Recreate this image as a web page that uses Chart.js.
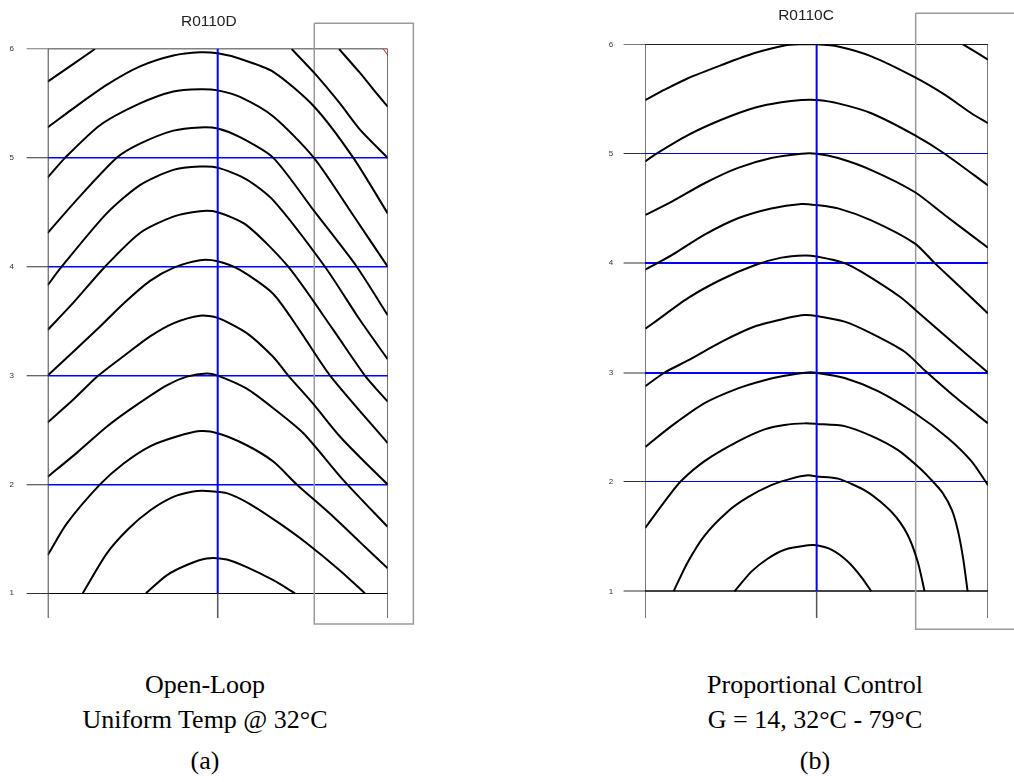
<!DOCTYPE html>
<html>
<head>
<meta charset="utf-8">
<script src="https://cdn.jsdelivr.net/npm/chart.js@4.4.0/dist/chart.umd.min.js"></script>
<style>
	body { margin: 0; background: #fff; width: 1014px; height: 782px; position: relative; overflow: hidden; }
	canvas { position: absolute; top: 0; }
	#openLoop { left: 0; }
	#propControl { left: 590px; }
	.cap {
		position: absolute; width: 300px; text-align: center; white-space: nowrap;
		font-family: 'Liberation Serif', 'Times New Roman', serif; font-size: 26px; line-height: 26px; color: #000;
	}
	.ttl {
		position: absolute; width: 200px; text-align: center; white-space: nowrap;
		font-family: 'Liberation Sans', Arial, sans-serif; font-size: 15.5px; line-height: 16px; color: #222;
	}
</style>
</head>
<body>
<canvas id="openLoop" width="420" height="640"></canvas>
<canvas id="propControl" width="424" height="640"></canvas>
<div id="labels"></div>
<script>
// y axis ticks shared by both panels
const yTicks = [1, 2, 3, 4, 5, 6];

// panel titles and captions
const panelTitles = ['R0110D', 'R0110C'];
const captionsA = ['Open-Loop', 'Uniform Temp @ 32°C', '(a)'];
const captionsB = ['Proportional Control', 'G = 14, 32°C - 79°C', '(b)'];

// (a) open-loop contours, x: -1 (left edge) .. 1 (right edge)
const olCorner = [[-1, 5.70], [-0.722, 6.0]];
const olTopRight1 = [[0.714, 6.0], [0.837, 5.78], [0.915, 5.63], [1, 5.47]];
const olTopRight2 = [[0.435, 6.0], [0.568, 5.78], [0.719, 5.50], [0.837, 5.26], [1, 5.0]];
const olArc1 = [[-1, 5.28], [-0.849, 5.455], [-0.653, 5.67], [-0.457, 5.84], [-0.261, 5.94], [-0.104, 5.97], [0, 5.96], [0.131, 5.91], [0.327, 5.79], [0.568, 5.47], [0.798, 5.0], [1, 4.49]];
const olArc2 = [[-1, 4.82], [-0.898, 5.0], [-0.692, 5.30], [-0.457, 5.50], [-0.261, 5.61], [-0.104, 5.63], [0, 5.62], [0.131, 5.56], [0.327, 5.38], [0.566, 5.0], [0.798, 4.47], [1, 4.0]];
const olArc3 = [[-1, 4.31], [-0.849, 4.58], [-0.594, 5.0], [-0.457, 5.13], [-0.261, 5.25], [-0.104, 5.28], [0, 5.27], [0.131, 5.19], [0.327, 5.0], [0.568, 4.51], [0.818, 4.0], [1, 3.555]];
const olArc4 = [[-1, 3.83], [-0.918, 4.0], [-0.653, 4.49], [-0.457, 4.75], [-0.261, 4.89], [-0.104, 4.92], [0, 4.91], [0.171, 4.80], [0.327, 4.61], [0.631, 4.0], [0.837, 3.51], [1, 3.15]];
const olArc5 = [[-1, 3.42], [-0.849, 3.67], [-0.663, 4.0], [-0.457, 4.31], [-0.261, 4.46], [-0.104, 4.51], [0, 4.50], [0.171, 4.38], [0.415, 4.0], [0.680, 3.42], [0.866, 3.0], [1, 2.76]];
const olArc6 = [[-1, 3.0], [-0.712, 3.42], [-0.555, 3.66], [-0.398, 3.87], [-0.261, 3.99], [-0.104, 4.06], [0, 4.05], [0.131, 3.97], [0.327, 3.75], [0.48, 3.42], [0.661, 3.0], [1, 2.38]];
const olArc7 = [[-1, 2.57], [-0.849, 2.78], [-0.702, 3.0], [-0.535, 3.20], [-0.398, 3.36], [-0.261, 3.48], [-0.104, 3.55], [0, 3.53], [0.171, 3.39], [0.327, 3.17], [0.415, 3.0], [0.562, 2.74], [0.719, 2.44], [0.856, 2.22], [1, 2.0]];
const olArc8 = [[-1, 2.07], [-0.829, 2.29], [-0.653, 2.53], [-0.496, 2.71], [-0.300, 2.91], [-0.182, 2.99], [-0.065, 3.02], [0, 3.0], [0.171, 2.88], [0.327, 2.70], [0.504, 2.47], [0.739, 2.04], [1, 1.61]];
const olArc9 = [[-1, 1.35], [-0.888, 1.64], [-0.692, 2.0], [-0.555, 2.19], [-0.398, 2.35], [-0.241, 2.44], [-0.104, 2.49], [0, 2.47], [0.171, 2.36], [0.327, 2.21], [0.465, 2.0], [0.661, 1.73], [0.837, 1.47], [1, 1.23]];
const olArc10 = [[-0.794, 1.0], [-0.653, 1.365], [-0.526, 1.59], [-0.398, 1.76], [-0.261, 1.885], [-0.144, 1.935], [-0.065, 1.94], [0.053, 1.92], [0.190, 1.82], [0.366, 1.64], [0.524, 1.46], [0.719, 1.21], [0.866, 1.0]];
const olArc11 = [[-0.422, 1.0], [-0.300, 1.165], [-0.182, 1.26], [-0.065, 1.32], [0.053, 1.31], [0.171, 1.24], [0.327, 1.12], [0.455, 1.0]];
const olRedMark = [[0.974, 6.0], [1, 5.945]];
const olBox = [[0.568, 6.236], [1.151, 6.236], [1.151, 0.718], [0.568, 0.718], [0.568, 6.236]];

// (b) proportional control contours
const pcTopRight = [[0.854, 6.0], [1, 5.86]];
const pcArc1 = [[-1, 5.49], [-0.887, 5.585], [-0.751, 5.69], [-0.556, 5.81], [-0.362, 5.92], [-0.187, 5.99], [-0.089, 6.0], [0, 6.0], [0.125, 5.98], [0.319, 5.89], [0.572, 5.70], [0.747, 5.54], [0.903, 5.37], [1, 5.28]];
const pcArc2 = [[-1, 4.93], [-0.946, 4.99], [-0.751, 5.17], [-0.556, 5.31], [-0.362, 5.42], [-0.206, 5.47], [-0.089, 5.49], [0, 5.49], [0.125, 5.46], [0.319, 5.37], [0.572, 5.17], [0.747, 5.0], [1, 4.71]];
const pcArc3 = [[-1, 4.44], [-0.848, 4.56], [-0.654, 4.73], [-0.459, 4.87], [-0.265, 4.96], [-0.089, 5.0], [0, 5.0], [0.125, 4.96], [0.319, 4.85], [0.572, 4.65], [0.747, 4.44], [1, 4.14]];
const pcArc4 = [[-1, 3.94], [-0.848, 4.07], [-0.654, 4.26], [-0.459, 4.41], [-0.265, 4.50], [-0.089, 4.54], [0, 4.53], [0.125, 4.50], [0.319, 4.39], [0.572, 4.18], [0.689, 4.0], [0.825, 3.80], [1, 3.54]];
const pcArc5 = [[-1, 3.40], [-0.955, 3.45], [-0.751, 3.68], [-0.556, 3.85], [-0.362, 3.98], [-0.206, 4.05], [-0.070, 4.07], [0, 4.06], [0.163, 4.00], [0.272, 3.91], [0.488, 3.69], [0.578, 3.57], [0.79, 3.28], [1, 3.0]];
const pcArc6 = [[-1, 2.875], [-0.887, 3.0], [-0.751, 3.11], [-0.556, 3.28], [-0.362, 3.42], [-0.167, 3.50], [-0.070, 3.526], [0, 3.517], [0.163, 3.465], [0.319, 3.358], [0.514, 3.19], [0.63, 3.02], [0.805, 2.78], [1, 2.535]];
const pcArc7 = [[-1, 2.32], [-0.848, 2.51], [-0.654, 2.72], [-0.459, 2.855], [-0.304, 2.93], [-0.187, 2.97], [-0.051, 3.0], [0, 2.997], [0.163, 2.95], [0.358, 2.83], [0.572, 2.63], [0.767, 2.40], [0.903, 2.19], [1, 1.97]];
const pcArc8 = [[-1, 1.58], [-0.868, 1.86], [-0.790, 2.01], [-0.654, 2.19], [-0.459, 2.37], [-0.304, 2.48], [-0.187, 2.52], [-0.070, 2.535], [0, 2.53], [0.163, 2.51], [0.319, 2.42], [0.475, 2.29], [0.591, 2.14], [0.662, 2.03], [0.735, 1.90], [0.79, 1.74], [0.825, 1.55], [0.856, 1.29], [0.881, 1.0]];
const pcArc9 = [[-0.835, 1.0], [-0.751, 1.27], [-0.654, 1.51], [-0.518, 1.73], [-0.401, 1.86], [-0.265, 1.97], [-0.148, 2.03], [-0.051, 2.06], [0, 2.05], [0.125, 2.03], [0.30, 1.905], [0.44, 1.72], [0.53, 1.52], [0.59, 1.27], [0.63, 1.0]];
const pcArc10 = [[-0.479, 1.0], [-0.381, 1.18], [-0.284, 1.30], [-0.187, 1.38], [-0.051, 1.42], [0, 1.42], [0.086, 1.38], [0.183, 1.27], [0.261, 1.13], [0.319, 1.0]];
const pcBox = [[0.578, 6.283], [1.2, 6.283], [1.2, 0.653], [0.578, 0.653], [0.578, 6.283]];

function toPts(arr) {
	return arr.map(p => ({ x: p[0], y: p[1] }));
}

function lineSet(arr, color, width, extra) {
	return Object.assign({
		data: toPts(arr),
		showLine: true,
		borderColor: color,
		borderWidth: width,
		pointRadius: 0,
		pointHoverRadius: 0,
		tension: 0,
		fill: false
	}, extra || {});
}

function buildPanel(id, o) {
	const datasets = [];
	// frame: blue center line, stub below y=1, left and right edges
	datasets.push(lineSet([[0, 1], [0, 6]], '#0000ff', 2));
	datasets.push(lineSet([[0, o.yMin], [0, 1]], '#555', 1.5));
	datasets.push(lineSet([[-1, o.yMin], [-1, 6]], o.leftEdgeColor, o.leftEdgeWidth));
	datasets.push(lineSet([[1, o.yMin], [1, 6]], '#222', 1.2));
	(o.extras || []).forEach(e => datasets.push(lineSet(e.pts, e.color, e.width)));
	o.curves.forEach(c => datasets.push(lineSet(c, '#000', 2, { tension: 0.25 })));
	datasets.push(lineSet(o.box, '#9a9a9a', 1.5, { clip: false }));

	return new Chart(document.getElementById(id), {
		type: 'scatter',
		data: { datasets },
		options: {
			responsive: false,
			animation: false,
			devicePixelRatio: 1,
			layout: { padding: o.padding },
			plugins: {
				legend: { display: false },
				tooltip: { enabled: false },
				title: { display: false }
			},
			scales: {
				x: { type: 'linear', min: -1, max: 1, display: false },
				y: {
					type: 'linear',
					min: o.yMin,
					max: 6,
					afterBuildTicks: s => { s.ticks = yTicks.map(v => ({ value: v })); },
					afterFit: s => { s.width = o.axisWidth; },
					border: { display: false },
					grid: {
						color: c => (c.tick ? o.gridColor[c.tick.value] : '#000'),
						lineWidth: c => (c.tick ? o.gridWidth[c.tick.value] : 1),
						tickLength: o.tickLen,
						tickColor: c => (c.tick && c.tick.value === 6 ? '#777' : '#333'),
						tickWidth: 1
					},
					ticks: {
						padding: o.labelPad,
						color: '#333',
						font: { family: 'Liberation Sans', size: 8 },
						callback: v => String(v)
					}
				}
			}
		}
	});
}

buildPanel('openLoop', {
	yMin: 0.773,
	padding: { left: 0, right: 32.3, top: 49, bottom: 22 },
	axisWidth: 47.7,
	tickLen: 21,
	labelPad: 12.7,
	leftEdgeColor: '#444',
	leftEdgeWidth: 2,
	gridColor: { 1: '#000', 2: '#0000ff', 3: '#0000ff', 4: '#0000ff', 5: '#0000ff', 6: '#808080' },
	gridWidth: { 1: 1, 2: 1.5, 3: 1.5, 4: 1.5, 5: 1.5, 6: 1.5 },
	extras: [{ pts: olRedMark, color: '#ff0000', width: 1 }],
	curves: [olCorner, olTopRight1, olTopRight2, olArc1, olArc2, olArc3, olArc4, olArc5, olArc6, olArc7, olArc8, olArc9, olArc10, olArc11],
	box: olBox
});

buildPanel('propControl', {
	yMin: 0.756,
	padding: { left: 0, right: 26, top: 44.3, bottom: 22 },
	axisWidth: 55.3,
	tickLen: 21.7,
	labelPad: 10.3,
	leftEdgeColor: '#111',
	leftEdgeWidth: 1,
	gridColor: { 1: '#444', 2: '#0000cc', 3: '#0000ff', 4: '#0000ff', 5: '#0000cc', 6: '#222' },
	gridWidth: { 1: 2, 2: 1, 3: 2, 4: 2, 5: 1, 6: 1 },
	curves: [pcTopRight, pcArc1, pcArc2, pcArc3, pcArc4, pcArc5, pcArc6, pcArc7, pcArc8, pcArc9, pcArc10],
	box: pcBox
});

// titles above and captions under each panel
const holder = document.getElementById('labels');
function addText(cls, text, cx, top, w) {
	const d = document.createElement('div');
	d.className = cls;
	d.textContent = text;
	d.style.left = (cx - w / 2) + 'px';
	d.style.top = top + 'px';
	holder.appendChild(d);
}
addText('ttl', panelTitles[0], 208.8, 12.6, 200);
addText('ttl', panelTitles[1], 806, 6.6, 200);
const capTops = [672, 707, 748];
[[captionsA, 205], [captionsB, 815]].forEach(([lines, cx]) => {
	lines.forEach((t, i) => addText('cap', t, cx, capTops[i], 300));
});
</script>
</body>
</html>
